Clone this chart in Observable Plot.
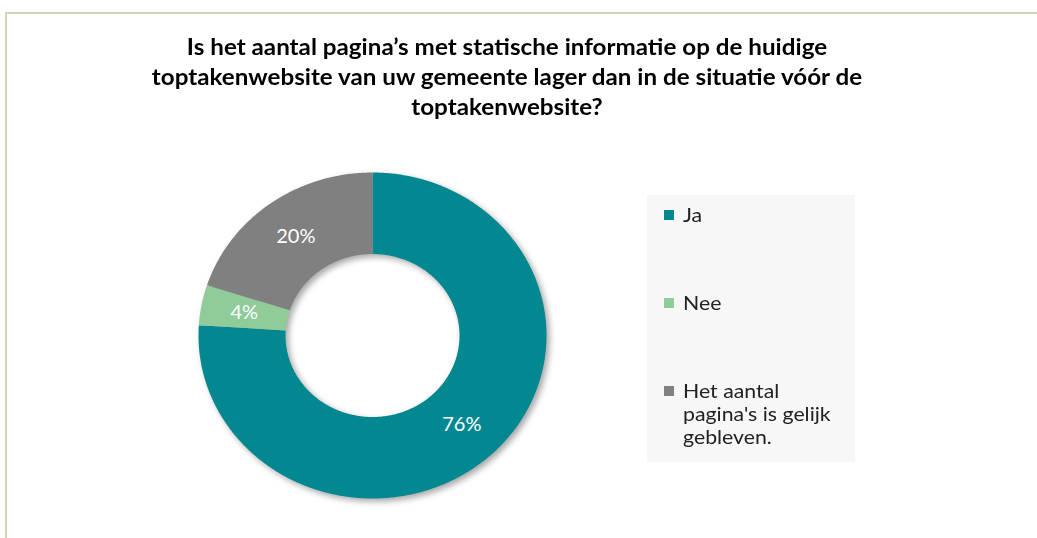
<!DOCTYPE html>
<html>
<head>
<meta charset="utf-8">
<script src="https://cdn.jsdelivr.net/npm/d3@7"></script>
<script src="https://cdn.jsdelivr.net/npm/@observablehq/plot@0.6"></script>
<style>
  html, body { margin: 0; padding: 0; background: #fff; }
  #wrap { position: relative; width: 1037px; height: 538px; overflow: hidden; font-family: Lato, "Open Sans", sans-serif; }
  #frame { position: absolute; left: 5px; top: 12px; width: 1040px; height: 540px; border-top: 2px solid #d8d3b6; border-left: 2px solid #d8d3b6; }
  #title { position: absolute; left: 0; top: 32px; width: 1014px; text-align: center; font-weight: bold; font-size: 22px; line-height: 30px; color: #000; transform: scaleX(1.1); transform-origin: 507px 0; }
  #chart { position: absolute; left: 0; top: 0; }
  #legend { position: absolute; left: 647px; top: 195px; width: 208px; height: 267px; background: #f7f7f7; }
  .item { position: absolute; left: 17px; font-size: 19px; line-height: 23px; color: #222; }
  .sw { position: absolute; left: 0; top: 7px; width: 10px; height: 10px; }
  .lbl { position: absolute; left: 19px; top: 0; white-space: nowrap; transform: scaleX(1.12); transform-origin: 0 0; }
</style>
</head>
<body>
<div id="wrap">
  <div id="frame"></div>
  <div id="title"></div>
  <div id="chart"></div>
  <div id="legend"></div>
</div>
<script>
const titleLines = [
  "Is het aantal pagina’s met statische informatie op de huidige",
  "toptakenwebsite van uw gemeente lager dan in de situatie vóór de",
  "toptakenwebsite?"
];
const categories = ["Ja", "Nee", "Het aantal pagina's is gelijk gebleven."];
const legendLines = [["Ja"], ["Nee"], ["Het aantal", "pagina's is gelijk", "gebleven."]];
const values = [76, 4, 20];
const colors = ["#038891", "#90cc9a", "#808080"];
const innerRatio = 0.5;

document.getElementById("title").innerHTML = titleLines.join("<br>");

// legend
const legendTops = [8, 96, 184];
const legend = document.getElementById("legend");
categories.forEach((c, i) => {
  const div = document.createElement("div");
  div.className = "item";
  div.style.top = legendTops[i] + "px";
  div.innerHTML = `<span class="sw" style="background:${colors[i]}"></span><span class="lbl">${legendLines[i].join("<br>")}</span>`;
  legend.appendChild(div);
});

// build ring slices from values
const total = d3.sum(values);
const pie = d3.pie().sort(null).value(d => d)(values);
const polys = [];
const labels = [];
pie.forEach((p, i) => {
  const a0 = p.startAngle, a1 = p.endAngle;
  const n = Math.max(2, Math.ceil((a1 - a0) / 0.01));
  for (let k = 0; k <= n; k++) {
    const a = a0 + (a1 - a0) * k / n;
    polys.push({key: categories[i], x: Math.sin(a), y: Math.cos(a)});
  }
  for (let k = n; k >= 0; k--) {
    const a = a0 + (a1 - a0) * k / n;
    polys.push({key: categories[i], x: innerRatio * Math.sin(a), y: innerRatio * Math.cos(a)});
  }
  const am = (a0 + a1) / 2, rm = (1 + innerRatio) / 2;
  labels.push({key: categories[i], x: rm * Math.sin(am), y: rm * Math.cos(am), text: Math.round(values[i] / total * 100) + "%"});
});

const cx = 372, cy = 335, rx = 174, ry = 163;
const chart = Plot.plot({
  width: 1037,
  height: 538,
  margin: 0,
  x: {domain: [-1, 1], range: [cx - rx, cx + rx], axis: null},
  y: {domain: [-1, 1], range: [cy + ry, cy - ry], axis: null},
  color: {domain: categories, range: colors},
  style: {background: "transparent", overflow: "visible"},
  marks: [
    Plot.line(polys, {x: "x", y: "y", z: "key", fill: "key", stroke: null, curve: "linear-closed"}),
    Plot.text(labels, {x: "x", y: "y", text: "text", fill: "white", fontSize: 20, fontFamily: "Lato, 'Open Sans', sans-serif"})
  ]
});
chart.querySelectorAll('g[aria-label="line"]').forEach(g => {
  g.style.filter = "drop-shadow(3px 3px 3px rgba(0,0,0,0.35))";
});
document.getElementById("chart").appendChild(chart);
</script>
</body>
</html>
